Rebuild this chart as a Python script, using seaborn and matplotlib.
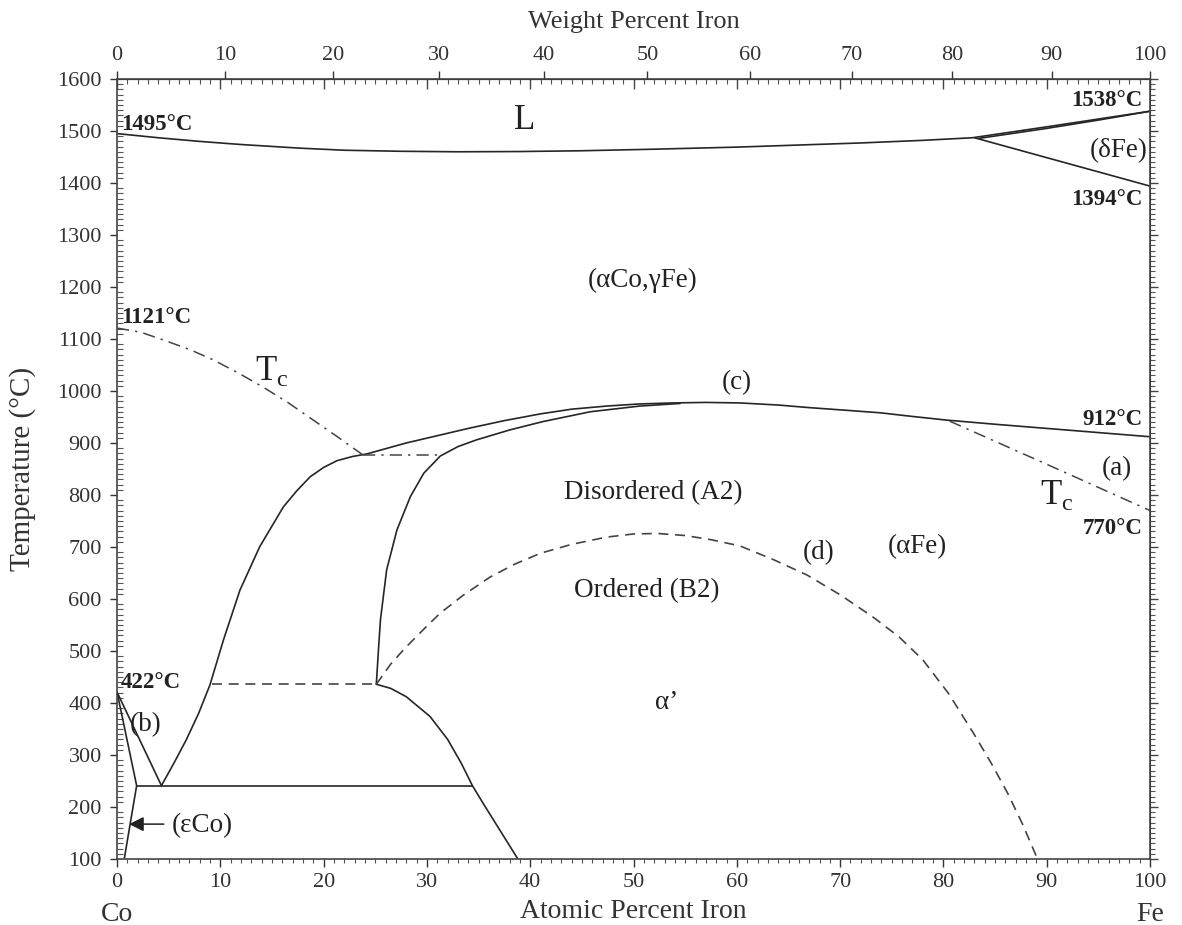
import numpy as np
import pandas as pd
import matplotlib
matplotlib.use("Agg")
import matplotlib.pyplot as plt
from matplotlib.ticker import MultipleLocator, NullFormatter
import seaborn as sns

sns.set_style("ticks")
plt.rcParams['font.family'] = ['Liberation Serif', 'DejaVu Serif']
plt.rcParams['mathtext.fontset'] = 'custom'
plt.rcParams['mathtext.rm'] = 'Liberation Serif'

# atomic masses for the weight-percent axis
M_FE = 55.845
M_CO = 58.933

# liquidus / solidus (atomic % Fe, deg C)
liq_x = [0, 4, 8, 12, 17.7, 22, 27.4, 33, 39, 45, 52, 60, 66, 72, 78, 82.8, 90, 95, 100]
liq_T = [1495, 1487, 1480, 1474, 1467, 1463, 1461, 1460, 1460.5, 1462, 1465, 1469, 1473, 1477, 1482, 1487,
         1508, 1523, 1538]
sol_x = [83.5, 90, 95, 100]
sol_T = [1486, 1505, 1521, 1538]
delta_x = [83.0, 100]
delta_T = [1487, 1394]

# gamma / (alpha + gamma) boundary
gam_x = [4.3, 5.5, 6.7, 7.9, 9.0, 10.3, 11.9, 13.8, 16.1, 17.4, 18.7, 20.0, 21.3, 22.8, 24.2,
         26, 28, 31, 34, 37.5, 41, 44, 47.4, 50.5, 53.8, 57, 60.3, 64, 67, 70.5, 73.9, 77, 80.3,
         85, 90, 95, 100]
gam_T = [241, 284, 329, 380, 435, 521, 617, 700, 777, 808, 835, 853, 866, 874, 879,
         889, 900, 914, 928, 943, 956, 965, 971, 975, 977, 978, 977, 973, 968, 963, 958, 951, 944,
         936, 928, 920, 912]

# alpha / (alpha + gamma) boundary
alp_x = [25.1, 25.3, 25.5, 26.1, 27.1, 28.4, 29.7, 31.3, 33.0, 34.8, 38.0, 41.2, 45.8, 50.6, 54.5]
alp_T = [436, 500, 560, 656, 733, 797, 842, 875, 893, 906, 925, 941, 960, 971, 976]

# alpha' / (alpha + alpha') boundary below the 436 C line
a2_x = [25.1, 26.5, 28.0, 30.3, 32.0, 33.3, 34.4, 35.5, 36.6, 37.7, 38.8]
a2_T = [436, 428, 412, 374, 330, 285, 241, 205, 170, 135, 100]

# low temperature lines near Co
b1_x = [0, 4.3]
b1_T = [421, 241]
b2_x = [0, 1.9, 0.7]
b2_T = [421, 241, 100]
eut_x = [1.9, 34.4]
eut_T = [241, 241]
ord_line_x = [9.2, 25.1]
ord_line_T = [436, 436]

# order-disorder (d)
ord_x = [25.1, 26.5, 28.0, 30.0, 31.3, 33.5, 36.1, 38.5, 41.0, 44.0, 47.4, 50.0, 52.3, 55.0,
         57.5, 60.3, 63.5, 66.8, 70.0, 73.2, 75.7, 78.0, 80.5, 82.9, 84.6, 86.2, 87.7, 89.1]
ord_T = [436, 475, 508, 548, 573, 607, 642, 667, 688, 705, 719, 725, 726, 722,
         714, 702, 676, 646, 608, 565, 527, 483, 418, 342, 285, 227, 165, 100]

# Curie temperature
tc1_x = [0, 2.3, 4.5, 7.0, 9.3, 11.7, 14.1, 16.6, 19.0, 21.4, 23.8]
tc1_T = [1121, 1113, 1098, 1080, 1060, 1035, 1008, 977, 944, 911, 877]
tc2_x = [23.8, 31.3]
tc2_T = [876, 876]
tc3_x = [80.6, 90.0, 100]
tc3_T = [942, 859, 770]

wt_ticks = list(range(0, 101, 10))
at_ticks = list(range(0, 101, 10))
temp_ticks = list(range(100, 1601, 100))


def at_to_wt(a):
    a = np.clip(np.asarray(a, dtype=float), 0, 100)
    return 100 * a * M_FE / (a * M_FE + (100 - a) * M_CO)


def wt_to_at(w):
    w = np.clip(np.asarray(w, dtype=float), 0, 100)
    return 100 * (w / M_FE) / (w / M_FE + (100 - w) / M_CO)


fig = plt.figure(figsize=(11.82, 9.25), dpi=100)
ax = fig.add_axes([0.099, 0.0714, 0.874, 0.8432])

solid = dict(color='#262626', linewidth=1.2)
dashed = dict(color='#444444', linewidth=1.2, linestyle=(0, (6, 4)))
dashdot = dict(color='#444444', linewidth=1.1, linestyle=(0, (8, 4, 1.5, 4)))

for xs, ts in [(liq_x, liq_T), (sol_x, sol_T), (delta_x, delta_T), (gam_x, gam_T),
               (alp_x, alp_T), (a2_x, a2_T), (b1_x, b1_T), (b2_x, b2_T), (eut_x, eut_T)]:
    sns.lineplot(x=xs, y=ts, sort=False, estimator=None, ax=ax, **solid)
for xs, ts in [(ord_x, ord_T), (ord_line_x, ord_line_T)]:
    sns.lineplot(x=xs, y=ts, sort=False, estimator=None, ax=ax, **dashed)
for xs, ts in [(tc1_x, tc1_T), (tc2_x, tc2_T), (tc3_x, tc3_T)]:
    sns.lineplot(x=xs, y=ts, sort=False, estimator=None, ax=ax, **dashdot)

ax.set_xlim(0, 100)
ax.set_ylim(100, 1600)

# bottom / left ticks
ax.set_xticks(at_ticks)
ax.xaxis.set_minor_locator(MultipleLocator(1))
ax.set_yticks(temp_ticks)
ax.yaxis.set_minor_locator(MultipleLocator(10))
ax.tick_params(axis='x', which='major', direction='out', length=6, width=1, labelsize=16,
               colors='#333333', pad=4)
ax.tick_params(axis='x', which='minor', direction='out', length=3, width=0.8, colors='#555555')
ax.tick_params(axis='y', which='major', direction='out', length=5, width=1, labelsize=16,
               colors='#333333', pad=6)
ax.tick_params(axis='y', which='minor', direction='in', length=4, width=0.8, colors='#555555')
for s in ax.spines.values():
    s.set_linewidth(1.2)
    s.set_color('#444444')

# top atomic ticks (inward)
top_at = ax.secondary_xaxis('top')
top_at.set_xticks(at_ticks)
top_at.xaxis.set_minor_locator(MultipleLocator(1))
top_at.tick_params(axis='x', which='major', direction='in', length=7, width=1, labeltop=False,
                   colors='#444444')
top_at.tick_params(axis='x', which='minor', direction='in', length=3.5, width=0.8, colors='#555555')
top_at.xaxis.set_major_formatter(NullFormatter())

# top weight-percent axis
top_wt = ax.secondary_xaxis('top', functions=(at_to_wt, wt_to_at))
top_wt.set_xticks(wt_ticks)
top_wt.tick_params(axis='x', which='major', direction='out', length=6, width=1, labelsize=16,
                   colors='#333333', pad=4)
top_wt.tick_params(axis='x', which='minor', length=0)
top_wt.set_xlabel('Weight Percent Iron', fontsize=19, color='#333333', labelpad=13)

# right ticks (outward)
right = ax.secondary_yaxis('right')
right.set_yticks(temp_ticks)
right.yaxis.set_minor_locator(MultipleLocator(10))
right.tick_params(axis='y', which='major', direction='out', length=6, width=1, labelright=False,
                  colors='#444444')
right.tick_params(axis='y', which='minor', direction='out', length=3.5, width=0.8, colors='#555555')
right.yaxis.set_major_formatter(NullFormatter())

ax.set_xlabel('Atomic Percent Iron', fontsize=20, color='#333333', labelpad=5)
ax.set_ylabel('Temperature (°C)', fontsize=21, color='#333333', labelpad=15)
ax.text(0, -0.055, 'Co', transform=ax.get_xaxis_transform(), ha='center', va='top',
        fontsize=20, color='#333333')
ax.text(100, -0.055, 'Fe', transform=ax.get_xaxis_transform(), ha='center', va='top',
        fontsize=20, color='#333333')

# annotations
tc = '#222222'
bold = dict(fontsize=16.5, fontweight='bold', color=tc)
ax.text(0.4, 1513, '1495°C', ha='left', va='center', **bold)
ax.text(99.3, 1558, '1538°C', ha='right', va='center', **bold)
ax.text(99.3, 1369, '1394°C', ha='right', va='center', **bold)
ax.text(0.4, 1142, '1121°C', ha='left', va='center', **bold)
ax.text(99.3, 946, '912°C', ha='right', va='center', **bold)
ax.text(99.3, 736, '770°C', ha='right', va='center', **bold)
ax.text(0.4, 440, '422°C', ha='left', va='center', **bold)

reg = dict(fontsize=19.5, color=tc, ha='center', va='center')
ax.text(39.5, 1521, 'L', fontsize=25, color=tc, ha='center', va='center')
ax.text(97.0, 1463, '(δFe)', **reg)
ax.text(50.9, 1213, '(αCo,γFe)', **reg)
ax.text(15.0, 1038, r'T$_\mathrm{c}$', fontsize=25, color=tc, ha='center', va='center')
ax.text(60.0, 1017, '(c)', **reg)
ax.text(96.8, 850, '(a)', **reg)
ax.text(51.9, 804, 'Disordered (A2)', **reg)
ax.text(91.0, 800, r'T$_\mathrm{c}$', fontsize=25, color=tc, ha='center', va='center')
ax.text(77.5, 700, '(αFe)', **reg)
ax.text(67.9, 690, '(d)', **reg)
ax.text(51.3, 617, 'Ordered (B2)', **reg)
ax.text(53.2, 400, 'α’', **reg)
ax.text(2.8, 358, '(b)', **reg)
ax.annotate('', xy=(0.9, 167), xytext=(4.8, 167),
            arrowprops=dict(arrowstyle='-|>', color='#222222', lw=1.1, mutation_scale=22))
ax.text(5.3, 165, '(εCo)', fontsize=19.5, color=tc, ha='left', va='center')

fig.savefig('out.png', dpi=100)
